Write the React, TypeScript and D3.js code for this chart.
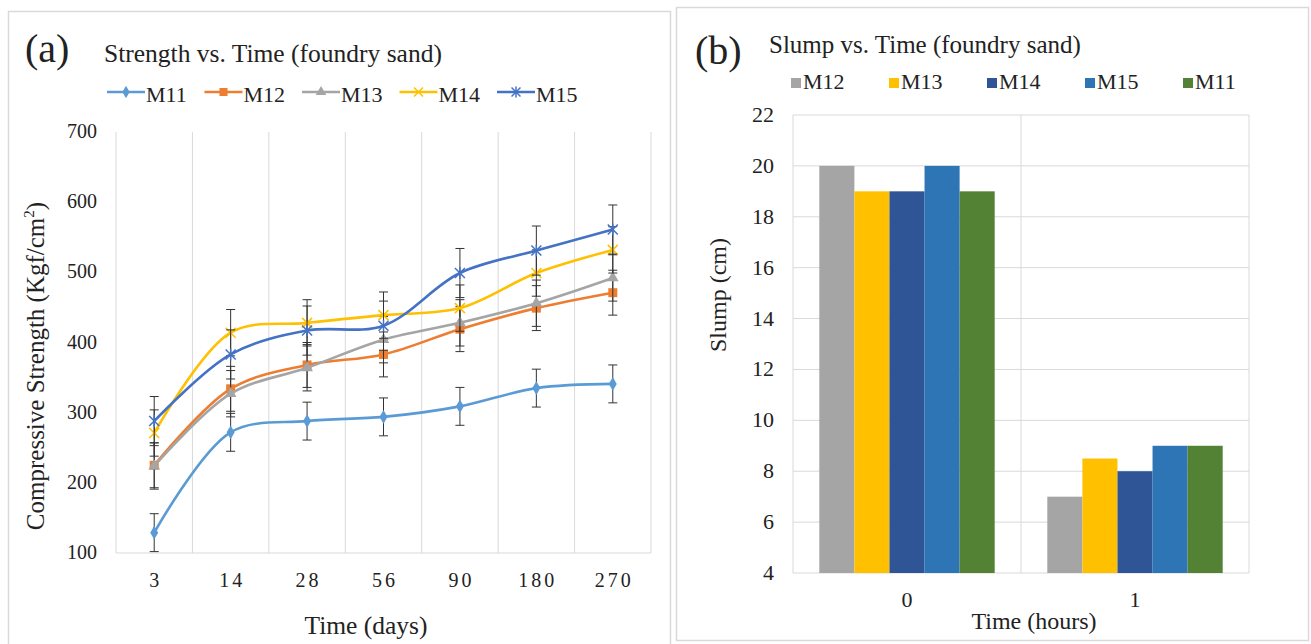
import React from 'react';
import * as d3 from 'd3';

// ---- Chart (a) data ----
const days = ['3', '14', '28', '56', '90', '180', '270'];
const seriesA = ['M11', 'M12', 'M13', 'M14', 'M15'];
const m11 = [129, 272, 288, 294, 309, 335, 341];
const m12 = [225, 334, 368, 383, 419, 449, 471];
const m13 = [224, 327, 364, 404, 428, 456, 492];
const m14 = [271, 414, 428, 439, 449, 499, 532];
const m15 = [288, 383, 417, 424, 499, 531, 561];
const errA = [27, 32, 33, 33, 35];
const yTicksA = [100, 200, 300, 400, 500, 600, 700];
const colorsA = ['#5B9BD5', '#ED7D31', '#A5A5A5', '#FFC000', '#4472C4'];
const markersA = ['diamond', 'square', 'triangle', 'x', 'star'];

// ---- Chart (b) data ----
const hours = ['0', '1'];
const seriesB = ['M12', 'M13', 'M14', 'M15', 'M11'];
const slump0 = [20, 19, 19, 20, 19];
const slump1 = [7, 8.5, 8, 9, 9];
const yTicksB = [4, 6, 8, 10, 12, 14, 16, 18, 20, 22];
const colorsB = ['#A5A5A5', '#FFC000', '#2F5597', '#2E75B6', '#548235'];

const FONT = '"Liberation Serif", "Times New Roman", serif';
const GRID = '#d9d9d9';

function Marker({ type, x, y, color, s = 1 }: { type: string; x: number; y: number; color: string; s?: number }) {
  if (type === 'diamond') {
    return <path d={d3.symbol(d3.symbolDiamond, 55 * s)()!} transform={`translate(${x},${y})`} fill={color} />;
  }
  if (type === 'square') {
    const w = 9 * Math.sqrt(s);
    return <rect x={x - w / 2} y={y - w / 2} width={w} height={w} fill={color} />;
  }
  if (type === 'triangle') {
    return <path d={d3.symbol(d3.symbolTriangle, 60 * s)()!} transform={`translate(${x},${y})`} fill={color} />;
  }
  const r = 5 * Math.sqrt(s);
  const lines = [
    [x - r, y - r, x + r, y + r],
    [x - r, y + r, x + r, y - r],
  ];
  if (type === 'star') lines.push([x, y - r - 1, x, y + r + 1]);
  return (
    <g stroke={color} strokeWidth={1.5}>
      {lines.map((l, i) => (
        <line key={i} x1={l[0]} y1={l[1]} x2={l[2]} y2={l[3]} />
      ))}
    </g>
  );
}

function ChartA() {
  const x = d3.scaleBand().domain(days).range([116, 651]);
  const y = d3.scaleLinear().domain([100, 700]).range([553, 132]);
  const data = [m11, m12, m13, m14, m15];
  const line = d3
    .line<number>()
    .x((_, i) => x(days[i])! + x.bandwidth() / 2)
    .y((d) => y(d))
    .curve(d3.curveCatmullRom.alpha(0.5));
  const bounds = [...days.map((d) => x(d)!), 651];
  return (
    <g>
      {bounds.map((b, i) => (
        <line key={i} x1={b} x2={b} y1={y(700)} y2={y(100)} stroke={GRID} strokeWidth={1} />
      ))}
      <line x1={116} x2={651} y1={y(100)} y2={y(100)} stroke={GRID} strokeWidth={1} />
      {yTicksA.map((t) => (
        <text key={t} x={97} y={y(t) + 6} textAnchor="end" fontSize={20} fontFamily={FONT} fill="#222">
          {t}
        </text>
      ))}
      {days.map((d) => (
        <text
          key={d}
          x={x(d)! + x.bandwidth() / 2 + 1.5}
          y={587}
          textAnchor="middle"
          fontSize={20}
          letterSpacing={3}
          fontFamily={FONT}
          fill="#222"
        >
          {d}
        </text>
      ))}
      {data.map((vals, si) => (
        <g key={si}>
          <path d={line(vals)!} fill="none" stroke={colorsA[si]} strokeWidth={2.6} />
          {vals.map((v, i) => {
            const cx = x(days[i])! + x.bandwidth() / 2;
            const e = errA[si];
            return (
              <g key={i} stroke="#333" strokeWidth={1}>
                <line x1={cx} x2={cx} y1={y(v + e)} y2={y(v - e)} />
                <line x1={cx - 4.5} x2={cx + 4.5} y1={y(v + e)} y2={y(v + e)} />
                <line x1={cx - 4.5} x2={cx + 4.5} y1={y(v - e)} y2={y(v - e)} />
              </g>
            );
          })}
          {vals.map((v, i) => (
            <Marker key={i} type={markersA[si]} x={x(days[i])! + x.bandwidth() / 2} y={y(v)} color={colorsA[si]} />
          ))}
        </g>
      ))}
      <text x={25} y={62} fontSize={40} fontFamily={FONT} fill="#222">(a)</text>
      <text x={104} y={62} fontSize={25.5} fontFamily={FONT} fill="#222">Strength vs. Time (foundry sand)</text>
      {seriesA.map((s, i) => {
        const lx = 107 + i * 97.5;
        return (
          <g key={s}>
            <line x1={lx} x2={lx + 38} y1={92} y2={92} stroke={colorsA[i]} strokeWidth={2.6} />
            <Marker type={markersA[i]} x={lx + 19} y={92} color={colorsA[i]} s={0.8} />
            <text x={lx + 39} y={102} fontSize={22} fontFamily={FONT} fill="#222">{s}</text>
          </g>
        );
      })}
      <text
        transform={`translate(44,366) rotate(-90)`}
        textAnchor="middle"
        fontSize={25}
        fontFamily={FONT}
        fill="#222"
      >
        Compressive Strength (Kgf/cm
        <tspan fontSize={15} dy={-10}>2</tspan>
        <tspan dy={10}>)</tspan>
      </text>
      <text x={366} y={634} textAnchor="middle" fontSize={25.5} fontFamily={FONT} fill="#222">Time (days)</text>
    </g>
  );
}

function ChartB() {
  const x0 = d3.scaleBand().domain(hours).range([793, 1249]);
  const x1 = d3.scaleBand().domain(seriesB).range([0, x0.bandwidth()]).paddingOuter(0.75);
  const y = d3.scaleLinear().domain([4, 22]).range([573, 115]);
  const groups = [slump0, slump1];
  return (
    <g>
      {yTicksB.map((t) => (
        <line key={t} x1={793} x2={1249} y1={y(t)} y2={y(t)} stroke={GRID} strokeWidth={1} />
      ))}
      {[...hours.map((h) => x0(h)!), 1249].map((b, i) => (
        <line key={i} x1={b} x2={b} y1={y(22)} y2={y(4)} stroke={GRID} strokeWidth={1} />
      ))}
      {groups.map((vals, gi) => (
        <g key={gi}>
          {vals.map((v, si) => (
            <rect
              key={si}
              x={x0(hours[gi])! + x1(seriesB[si])!}
              y={y(v)}
              width={x1.bandwidth()}
              height={y(4) - y(v)}
              fill={colorsB[si]}
            />
          ))}
        </g>
      ))}
      {yTicksB.map((t) => (
        <text key={t} x={774} y={y(t) + 7} textAnchor="end" fontSize={22} fontFamily={FONT} fill="#222">
          {t}
        </text>
      ))}
      {hours.map((h) => (
        <text key={h} x={x0(h)! + x0.bandwidth() / 2} y={607} textAnchor="middle" fontSize={22} fontFamily={FONT} fill="#222">
          {h}
        </text>
      ))}
      <text x={695} y={64} fontSize={40} fontFamily={FONT} fill="#222">(b)</text>
      <text x={769} y={53} fontSize={25} fontFamily={FONT} fill="#222">Slump vs. Time (foundry sand)</text>
      {seriesB.map((s, i) => {
        const lx = 791 + i * 98;
        return (
          <g key={s}>
            <rect x={lx} y={78} width={10} height={10} fill={colorsB[i]} />
            <text x={lx + 12} y={89} fontSize={22} fontFamily={FONT} fill="#222">{s}</text>
          </g>
        );
      })}
      <text transform={`translate(726,295) rotate(-90)`} textAnchor="middle" fontSize={24} fontFamily={FONT} fill="#222">
        Slump (cm)
      </text>
      <text x={1034} y={629} textAnchor="middle" fontSize={24} fontFamily={FONT} fill="#222">Time (hours)</text>
    </g>
  );
}

export default function App() {
  return (
    <div style={{ position: 'absolute', left: 0, top: 0 }}>
      <svg width={1311} height={644} style={{ display: 'block', background: '#fff' }}>
        <rect x={0} y={0} width={1311} height={644} fill="#fff" />
        <path d="M8.5,650 L8.5,11.5 L670.5,11.5 L670.5,650" fill="none" stroke={GRID} strokeWidth={1.5} />
        <rect x={676.5} y={7.5} width={632} height={633} fill="none" stroke={GRID} strokeWidth={1.5} />
        <ChartA />
        <ChartB />
      </svg>
    </div>
  );
}
